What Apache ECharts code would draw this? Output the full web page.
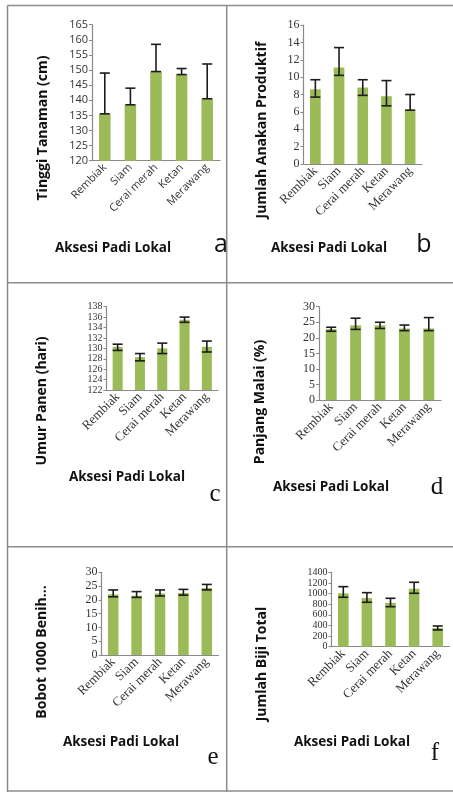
<!DOCTYPE html>
<html>
<head>
<meta charset="utf-8">
<script src="https://cdn.jsdelivr.net/npm/echarts@6/dist/echarts.min.js"></script>
<style>
  html, body { margin: 0; padding: 0; background: #fff; }
  #main { width: 453px; height: 792px; }
</style>
</head>
<body>
<div id="main"></div>
<script>
// ====================== data ======================
var categories = ['Rembiak', 'Siam', 'Cerai merah', 'Ketan', 'Merawang'];

// a - Tinggi Tanaman (cm)
var tinggiMean = [135.5, 138.5, 149.5, 148.5, 140.5];
var tinggiHigh = [149, 144, 158.5, 150.5, 152];
var tinggiLow = [135.5, 138.5, 149.5, 148.5, 140.5];

// b - Jumlah Anakan Produktif
var anakanMean = [8.6, 11.1, 8.8, 7.8, 6.2];
var anakanHigh = [9.7, 13.4, 9.7, 9.6, 8.0];
var anakanLow = [7.7, 10.2, 7.9, 6.7, 6.2];

// c - Umur Panen (hari)
var umurMean = [130.3, 128.3, 130.0, 135.5, 130.3];
var umurHigh = [130.8, 129.0, 131.0, 136.0, 131.4];
var umurLow = [129.6, 127.6, 129.0, 135.0, 129.3];

// d - Panjang Malai (%)
var malaiMean = [22.8, 24.0, 24.0, 23.0, 23.0];
var malaiHigh = [23.4, 26.3, 25.0, 24.1, 26.5];
var malaiLow = [22.1, 22.7, 23.0, 22.3, 22.3];

// e - Bobot 1000 Benih
var bobotMean = [22.0, 21.5, 22.3, 22.5, 24.3];
var bobotHigh = [23.6, 23.0, 23.6, 23.8, 25.6];
var bobotLow = [21.1, 20.9, 21.4, 21.7, 23.6];

// f - Jumlah Biji Total
var bijiMean = [1005, 915, 825, 1090, 350];
var bijiHigh = [1130, 1017, 911, 1212, 390];
var bijiLow = [930, 836, 753, 1005, 315];

var yTitles = ['Tinggi Tanaman (cm)', 'Jumlah Anakan Produktif', 'Umur Panen (hari)',
               'Panjang Malai (%)', 'Bobot 1000 Benih...', 'Jumlah Biji Total'];
var xTitle = 'Aksesi Padi Lokal';
var letters = ['a', 'b', 'c', 'd', 'e', 'f'];

// ====================== layout ======================
var SANS = 'Open Sans';
var SERIF = 'Liberation Serif';
var panels = [
    { mean: tinggiMean, high: tinggiHigh, low: tinggiLow, min: 120, max: 165, step: 5,
      grid: { left: 92, top: 24.7, width: 128, height: 136 }, font: SANS, tickSize: 11, catSize: 11,
      yt: [43, 128], xt: [113, 248], lt: [221, 245], lfont: SANS },
    { mean: anakanMean, high: anakanHigh, low: anakanLow, min: 0, max: 16, step: 2,
      grid: { left: 303.5, top: 25, width: 118.5, height: 139 }, font: SERIF, tickSize: 12, catSize: 13,
      yt: [262, 130], xt: [329, 248], lt: [424, 245], lfont: SANS },
    { mean: umurMean, high: umurHigh, low: umurLow, min: 122, max: 138, step: 2,
      grid: { left: 106.5, top: 306.7, width: 111.5, height: 83.3 }, font: SERIF, tickSize: 10, catSize: 13,
      yt: [42, 401], xt: [127, 477], lt: [215, 494], lfont: SERIF },
    { mean: malaiMean, high: malaiHigh, low: malaiLow, min: 0, max: 30, step: 5,
      grid: { left: 319, top: 306.7, width: 122, height: 93.3 }, font: SERIF, tickSize: 12, catSize: 13,
      yt: [260, 402], xt: [331, 487], lt: [437, 487], lfont: SERIF },
    { mean: bobotMean, high: bobotHigh, low: bobotLow, min: 0, max: 30, step: 5,
      grid: { left: 101.5, top: 572.3, width: 117, height: 82.7 }, font: SERIF, tickSize: 12, catSize: 13,
      yt: [42, 652], xt: [121, 742], lt: [213, 757], lfont: SERIF },
    { mean: bijiMean, high: bijiHigh, low: bijiLow, min: 0, max: 1400, step: 200,
      grid: { left: 331.5, top: 572.3, width: 118, height: 74.4 }, font: SERIF, tickSize: 10, catSize: 13,
      yt: [262, 664], xt: [352, 742], lt: [435, 753], lfont: SERIF }
];

function renderErr(params, api) {
    var x = api.value(0);
    var pHi = api.coord([x, api.value(2)]);
    var pLo = api.coord([x, api.value(1)]);
    var hw = 5;
    var st = { stroke: '#1c1c1c', lineWidth: 1.6 };
    return {
        type: 'group',
        children: [
            { type: 'line', shape: { x1: pHi[0], y1: pHi[1], x2: pLo[0], y2: pLo[1] }, style: st },
            { type: 'line', shape: { x1: pHi[0] - hw, y1: pHi[1], x2: pHi[0] + hw, y2: pHi[1] }, style: st },
            { type: 'line', shape: { x1: pLo[0] - hw, y1: pLo[1], x2: pLo[0] + hw, y2: pLo[1] }, style: st }
        ]
    };
}

var grids = [], xAxes = [], yAxes = [], series = [], graphics = [];

panels.forEach(function (p, i) {
    var g = p.grid;
    grids.push({ left: g.left, top: g.top, width: g.width, height: g.height, outerBoundsMode: 'none', containLabel: false });
    xAxes.push({
        gridIndex: i, type: 'category', data: categories,
        axisLine: { lineStyle: { color: '#8a8a8a', width: 1.2 } },
        axisTick: { show: false },
        axisLabel: { rotate: 45, margin: 5, interval: 0, hideOverlap: false,
                     fontFamily: p.font, fontSize: p.catSize, color: '#333' }
    });
    yAxes.push({
        gridIndex: i, type: 'value', min: p.min, max: p.max, interval: p.step,
        axisLine: { show: true, lineStyle: { color: '#8a8a8a', width: 1.2 } },
        axisTick: { show: true, length: 3, lineStyle: { color: '#8a8a8a' } },
        splitLine: { show: false },
        axisLabel: { margin: 4, fontFamily: p.font, fontSize: p.tickSize, color: '#333',
                     showMinLabel: true, showMaxLabel: true, hideOverlap: false,
                     formatter: function (v) { return String(v); } }
    });
    series.push({
        type: 'bar', xAxisIndex: i, yAxisIndex: i, data: p.mean,
        barCategoryGap: '55%', itemStyle: { color: '#9bbb59' }, silent: true
    });
    var errData = p.mean.map(function (v, k) { return [k, p.low[k], p.high[k]]; });
    series.push({
        type: 'custom', xAxisIndex: i, yAxisIndex: i, data: errData,
        renderItem: renderErr, silent: true, z: 5
    });
    graphics.push({
        type: 'text', x: p.yt[0], y: p.yt[1], rotation: Math.PI / 2,
        style: { text: yTitles[i], font: 'bold 14px "' + SANS + '"', fill: '#111', align: 'center', verticalAlign: 'middle' }
    });
    graphics.push({
        type: 'text', x: p.xt[0], y: p.xt[1],
        style: { text: xTitle, font: 'bold 13.5px "' + SANS + '"', fill: '#111', align: 'center', verticalAlign: 'middle' }
    });
    graphics.push({
        type: 'text', x: p.lt[0], y: p.lt[1],
        style: { text: letters[i], font: '25px "' + p.lfont + '"', fill: '#111', align: 'center', verticalAlign: 'middle' }
    });
});

// panel borders
var bc = { stroke: '#8c8c8c', lineWidth: 1.5 };
[
    [7.5, 5.5, 453, 5.5],
    [7.5, 5.5, 7.5, 792],
    [226.7, 5.5, 226.7, 792],
    [7.5, 282.7, 453, 282.7],
    [7.5, 546.7, 453, 546.7],
    [7.5, 791, 453, 791]
].forEach(function (l) {
    graphics.push({ type: 'line', shape: { x1: l[0], y1: l[1], x2: l[2], y2: l[3] }, style: bc, silent: true });
});

var chart = echarts.init(document.getElementById('main'), null, { renderer: 'canvas' });
chart.setOption({
    backgroundColor: '#fff',
    animation: false,
    grid: grids,
    xAxis: xAxes,
    yAxis: yAxes,
    series: series,
    graphic: graphics
});
</script>
</body>
</html>
